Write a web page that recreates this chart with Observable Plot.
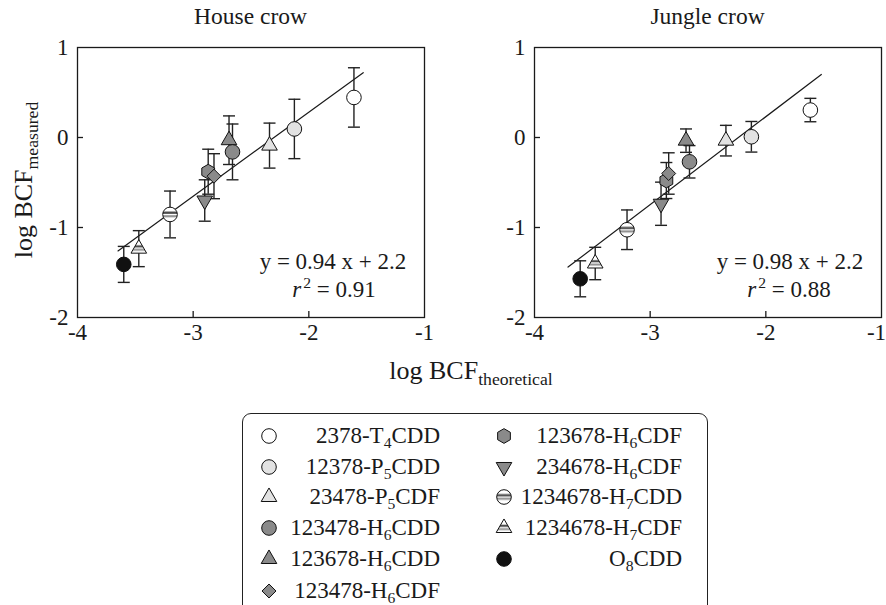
<!DOCTYPE html>
<html><head><meta charset="utf-8">
<script src="https://cdn.jsdelivr.net/npm/d3@7"></script>
<script src="https://cdn.jsdelivr.net/npm/@observablehq/plot@0.6"></script>
<style>
body{margin:0;background:#fff;}
#root{position:relative;width:886px;height:605px;overflow:hidden;font-family:"Liberation Serif","Times New Roman",serif;color:#1a1a1a;}
.abs{position:absolute;white-space:nowrap;}
.ttl{font-size:23.5px;text-align:center;transform:translateX(-50%);}
.eq{font-size:23px;transform:translate(-50%,-50%);}
sub.s{font-size:0.68em;vertical-align:-0.32em;line-height:0;}
sup.s{font-size:0.68em;vertical-align:0.55em;line-height:0;margin-left:2px;}
#legend{position:absolute;left:242px;top:413px;width:466px;height:230px;border:1.5px solid #222;border-radius:9px;box-sizing:border-box;}
.lrow{position:absolute;height:26px;line-height:26px;font-size:23px;}
.lsym{position:absolute;width:20px;height:20px;}
</style></head><body>
<svg width="0" height="0" style="position:absolute">
<defs>
<pattern id="stripeC" patternUnits="objectBoundingBox" patternContentUnits="objectBoundingBox" width="1" height="1">
<rect width="1" height="1" fill="#ffffff"/>
<rect y="0.30" width="1" height="0.16" fill="#4d4d4d"/>
<rect y="0.55" width="1" height="0.14" fill="#8c8c8c"/>
</pattern>
<pattern id="stripeT" patternUnits="objectBoundingBox" patternContentUnits="objectBoundingBox" width="1" height="1">
<rect width="1" height="1" fill="#ffffff"/>
<rect y="0.42" width="1" height="0.16" fill="#4d4d4d"/>
<rect y="0.68" width="1" height="0.14" fill="#8c8c8c"/>
</pattern>
</defs>
</svg>
<div id="root"></div>
<script>
// ---------- data ----------
const compounds = ["2378-T4CDD","12378-P5CDD","23478-P5CDF","123478-H6CDD","123678-H6CDD",
  "123478-H6CDF","123678-H6CDF","234678-H6CDF","1234678-H7CDD","1234678-H7CDF","O8CDD"];
// House crow
const houseX   = [-1.61, -2.125, -2.34, -2.66, -2.69, -2.82, -2.87, -2.90, -3.20, -3.47, -3.60];
const houseY   = [0.445, 0.095, -0.09, -0.16, -0.03, -0.43, -0.38, -0.70, -0.855, -1.235, -1.41];
const houseErr = [0.33, 0.33, 0.25, 0.31, 0.27, 0.25, 0.25, 0.23, 0.26, 0.20, 0.20];
const houseLineX = [-3.65, -1.53];
const houseLineY = [-1.26, 0.72];
// Jungle crow
const jungleX   = [-1.615, -2.125, -2.345, -2.66, -2.69, -2.84, -2.86, -2.906, -3.20, -3.475, -3.605];
const jungleY   = [0.305, 0.008, -0.035, -0.27, -0.035, -0.40, -0.478, -0.736, -1.025, -1.40, -1.57];
const jungleErr = [0.13, 0.17, 0.17, 0.18, 0.13, 0.23, 0.20, 0.24, 0.22, 0.18, 0.20];
const jungleLineX = [-3.71, -1.52];
const jungleLineY = [-1.44, 0.70];
// axes
const xTicks = [-4, -3, -2, -1];
const yTicks = [-2, -1, 0, 1];
const xInner = [-3, -2];
const yInner = [-1, 0];
const panelTitles = ["House crow", "Jungle crow"];
const equations = ["y = 0.94 x + 2.2", "y = 0.98 x + 2.2"];
const r2Values = ["0.91", "0.88"];

// ---------- styles ----------
const styles = {
  "2378-T4CDD":    {symbol:"circle",   fill:"#ffffff", r:7.3},
  "12378-P5CDD":   {symbol:"circle",   fill:"#e2e2e2", r:7.3},
  "23478-P5CDF":   {symbol:"triangle", fill:"#e2e2e2", r:5.8},
  "123478-H6CDD":  {symbol:"circle",   fill:"#8a8a8a", r:7.3},
  "123678-H6CDD":  {symbol:"triangle", fill:"#8a8a8a", r:5.8},
  "123478-H6CDF":  {symbol:"diamond2", fill:"#8a8a8a", r:6.3},
  "123678-H6CDF":  {symbol:"hexagon",  fill:"#8a8a8a", r:6.4},
  "234678-H6CDF":  {symbol:"triangle", fill:"#8a8a8a", r:5.8, rotate:180},
  "1234678-H7CDD": {symbol:"circle",   fill:"url(#stripeC)", r:7.3},
  "1234678-H7CDF": {symbol:"triangle", fill:"url(#stripeT)", r:5.8},
  "O8CDD":         {symbol:"circle",   fill:"#111111", r:7.3}
};
const FONT = "Liberation Serif, Times New Roman, serif";
const INK = "#1a1a1a";
const capSymbol = {draw(ctx){ ctx.moveTo(-6,0); ctx.lineTo(6,0); }};

function panel(xs, ys, errs, lx, ly, opts) {
  const idx = d3.range(compounds.length);
  const mainX = xTicks.slice(0, -1), lastX = xTicks.slice(-1);
  const marks = [
    Plot.frame({stroke: INK, strokeWidth: 1.3}),
    Plot.axisX({ticks: mainX, tickSize: 0, tickPadding: 6, tickFormat: d => String(d), fontSize: 23, fontFamily: FONT}),
    Plot.axisX({ticks: lastX, tickSize: 0, tickPadding: 6, tickFormat: d => String(d), fontSize: 23, fontFamily: FONT, dx: opts.lastDx}),
    Plot.axisY({ticks: yTicks, tickSize: 0, tickPadding: 9, tickFormat: d => String(d), fontSize: 23, fontFamily: FONT}),
    Plot.axisX({ticks: xInner, tickSize: -6, tickFormat: () => "", strokeWidth: 1.3}),
    Plot.axisY({ticks: yInner, tickSize: -6, tickFormat: () => "", strokeWidth: 1.3}),
    Plot.line(d3.range(lx.length), {x: i => lx[i], y: i => ly[i], stroke: INK, strokeWidth: 1.2}),
    Plot.ruleX(idx, {x: i => xs[i], y1: i => ys[i] - errs[i], y2: i => ys[i] + errs[i], stroke: "#222", strokeWidth: 1.4}),
    Plot.dot(idx, {x: i => xs[i], y: i => ys[i] + errs[i], symbol: capSymbol, stroke: "#222", strokeWidth: 1.4, fill: "none"}),
    Plot.dot(idx, {x: i => xs[i], y: i => ys[i] - errs[i], symbol: capSymbol, stroke: "#222", strokeWidth: 1.4, fill: "none"})
  ];
  for (let i = compounds.length - 1; i >= 0; i--) {
    const s = styles[compounds[i]];
    marks.push(Plot.dot([i], {x: j => xs[j], y: j => ys[j], symbol: s.symbol, r: s.r, fill: s.fill,
      stroke: "#111", strokeWidth: 1, rotate: s.rotate || 0}));
  }
  return Plot.plot({
    width: 443, height: 345,
    marginLeft: opts.ml, marginRight: opts.mr, marginTop: 47, marginBottom: 28,
    x: {domain: [-4, -1], axis: null},
    y: {domain: [-2, 1], axis: null},
    style: {fontFamily: FONT, fontSize: "23px", color: INK, background: "transparent", overflow: "visible"},
    marks
  });
}

const root = document.getElementById("root");
const p1 = panel(houseX, houseY, houseErr, houseLineX, houseLineY, {ml: 77, mr: 19, lastDx: 0});
p1.style.position = "absolute"; p1.style.left = "0px"; p1.style.top = "0px";
root.appendChild(p1);
const p2 = panel(jungleX, jungleY, jungleErr, jungleLineX, jungleLineY, {ml: 91, mr: 5, lastDx: -5});
p2.style.position = "absolute"; p2.style.left = "443px"; p2.style.top = "0px";
root.appendChild(p2);

function addDiv(cls, html, left, top, extra) {
  const d = document.createElement("div");
  d.className = "abs " + cls;
  d.innerHTML = html;
  d.style.left = left + "px"; d.style.top = top + "px";
  if (extra) Object.assign(d.style, extra);
  root.appendChild(d);
  return d;
}
// titles
addDiv("ttl", panelTitles[0], 250.5, 3);
addDiv("ttl", panelTitles[1], 707.5, 3);
// equations
addDiv("eq", equations[0], 333, 262);
addDiv("eq", `<i>r</i><sup class="s">2</sup> = ${r2Values[0]}`, 334, 290);
addDiv("eq", equations[1], 790, 262);
addDiv("eq", `<i>r</i><sup class="s">2</sup> = ${r2Values[1]}`, 789, 290);
// axis labels
addDiv("", `log BCF<sub class="s">theoretical</sub>`, 471, 371, {fontSize: "26px", transform: "translate(-50%,-50%)"});
addDiv("", `log BCF<sub class="s">measured</sub>`, 24, 180, {fontSize: "26px", transform: "translate(-50%,-50%) rotate(-90deg)"});

// legend
const fmt = name => name.replace(/([TPHO])(\d)(CD[DF])$/, '$1<sub class="s">$2</sub>$3');
const legend = document.createElement("div");
legend.id = "legend";
root.appendChild(legend);
function symbolPath(s) {
  const size = Math.PI * s.r * s.r;
  if (s.symbol === "hexagon") {
    const R = s.r * 1.15;
    return d3.range(6).map(k => {
      const a = Math.PI / 2 + k * Math.PI / 3;
      return (k ? "L" : "M") + (R * Math.cos(a)).toFixed(2) + "," + (R * Math.sin(a)).toFixed(2);
    }).join("") + "Z";
  }
  const t = {circle: d3.symbolCircle, triangle: d3.symbolTriangle, diamond2: d3.symbolDiamond2}[s.symbol];
  return d3.symbol(t, size)();
}
const rowsY = [22, 53, 83, 114, 145, 177];
compounds.forEach((name, i) => {
  const col = i < 6 ? 0 : 1;
  const row = col === 0 ? i : i - 6;
  const s = styles[name];
  const cx = col === 0 ? 26 : 261;
  const textRight = col === 0 ? 196 : 438;
  const cy = rowsY[row];
  const sv = document.createElementNS("http://www.w3.org/2000/svg", "svg");
  sv.setAttribute("class", "lsym");
  sv.setAttribute("viewBox", "-10 -10 20 20");
  sv.style.left = (cx - 10) + "px"; sv.style.top = (cy - 10) + "px";
  const p = document.createElementNS("http://www.w3.org/2000/svg", "path");
  p.setAttribute("d", symbolPath(s));
  p.setAttribute("fill", s.fill);
  p.setAttribute("stroke", "#111");
  p.setAttribute("stroke-width", "1");
  if (s.rotate) p.setAttribute("transform", `rotate(${s.rotate})`);
  sv.appendChild(p);
  legend.appendChild(sv);
  const t = document.createElement("div");
  t.className = "lrow";
  t.innerHTML = fmt(name);
  t.style.right = (466 - 3 - textRight) + "px";
  t.style.top = (cy - 13) + "px";
  legend.appendChild(t);
});
</script>
</body></html>
